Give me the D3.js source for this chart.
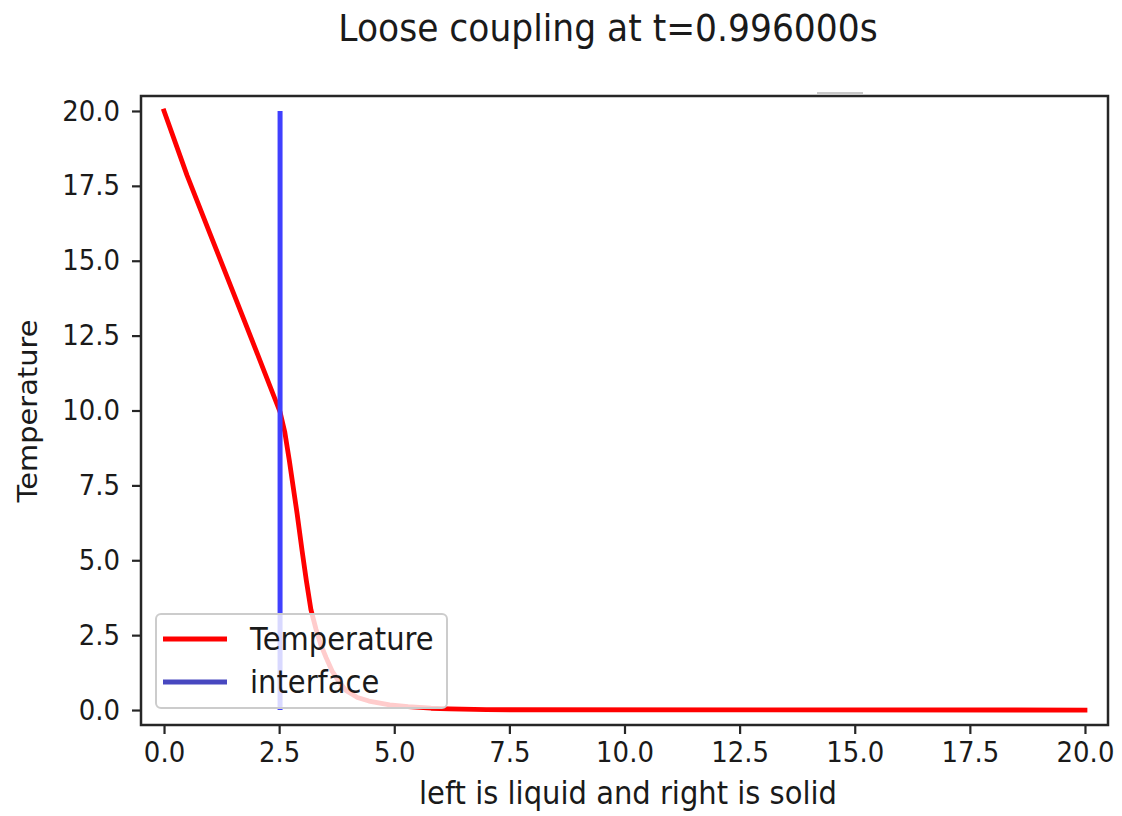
<!DOCTYPE html>
<html>
<head>
<meta charset="utf-8">
<script src="https://cdn.jsdelivr.net/npm/d3@7"></script>
<style>
  html, body { margin: 0; padding: 0; background: #fff; }
  svg { display: block; font-family: "DejaVu Sans", sans-serif; }
  svg text.stretch { transform-box: fill-box; transform-origin: center; transform: scaleY(1.09); }
</style>
</head>
<body>
<svg id="chart" width="1122" height="816"></svg>
<script>
// ---- data ----
const titleText = "Loose coupling at t=0.996000s";
const xLabelText = "left is liquid and right is solid";
const yLabelText = "Temperature";
const seriesNames = ["Temperature", "interface"];

const xPos = [0, 0.5, 1.0, 1.5, 2.0, 2.52, 2.62, 2.72, 2.8, 2.89, 3.0, 3.09, 3.19, 3.3, 3.4, 3.52, 3.65, 3.8, 3.95, 4.2, 4.45, 4.9, 5.3, 5.8, 6.2, 7.0, 20.0];
const temperature = [20, 17.85, 15.9, 13.95, 12.0, 9.95, 9.3, 8.34, 7.5, 6.56, 5.3, 4.33, 3.35, 2.7, 2.2, 1.75, 1.3, 0.95, 0.65, 0.42, 0.3, 0.17, 0.11, 0.06, 0.04, 0.01, 0];

const interfaceX = [2.52, 2.52];
const interfaceY = [0, 20];

const xTicks = [0, 2.5, 5, 7.5, 10, 12.5, 15, 17.5, 20];
const yTicks = [0, 2.5, 5, 7.5, 10, 12.5, 15, 17.5, 20];

// ---- layout ----
const svg = d3.select("#chart");
const L = 141, R = 1108, T = 96, B = 725;

const x = d3.scaleLinear().domain([-0.5, 20.5]).range([L, R]);
const y = d3.scaleLinear().domain([-0.5, 20.5]).range([B, T]);

const red = "#ff0000";
const blue = "#4040ff";
const axisColor = "#262626";

// clip
svg.append("clipPath").attr("id", "clip")
  .append("rect").attr("x", L).attr("y", T).attr("width", R - L).attr("height", B - T);

const plot = svg.append("g").attr("clip-path", "url(#clip)");

const line = d3.line().x(d => x(d[0])).y(d => y(d[1]));

plot.append("path")
  .datum(xPos.map((v, i) => [v, temperature[i]]))
  .attr("d", line)
  .attr("fill", "none")
  .attr("stroke", red)
  .attr("stroke-width", 4.8)
  .attr("stroke-linejoin", "round")
  .attr("stroke-linecap", "square");

plot.append("path")
  .datum(interfaceX.map((v, i) => [v, interfaceY[i]]))
  .attr("d", line)
  .attr("fill", "none")
  .attr("stroke", blue)
  .attr("stroke-width", 5)
  .attr("stroke-linecap", "butt");

// ---- axes ----
const fmt = d3.format(".1f");
const xAxis = d3.axisBottom(x).tickValues(xTicks).tickFormat(fmt).tickSize(9).tickPadding(9);
const yAxis = d3.axisLeft(y).tickValues(yTicks).tickFormat(fmt).tickSize(9).tickPadding(12);

const gx = svg.append("g").attr("transform", `translate(0,${B})`).call(xAxis);
const gy = svg.append("g").attr("transform", `translate(${L},0)`).call(yAxis);
[gx, gy].forEach(g => {
  g.select(".domain").remove();
  g.selectAll(".tick line").attr("stroke", axisColor).attr("stroke-width", 2.2);
  g.selectAll(".tick text").attr("class", "stretch").attr("fill", "#1a1a1a")
    .style("font-family", "'DejaVu Sans', sans-serif").style("font-size", "26px");
});

// ---- legend ----
const lg = svg.append("g");
lg.append("rect")
  .attr("x", 156).attr("y", 614).attr("width", 291).attr("height", 94)
  .attr("rx", 5).attr("ry", 5)
  .attr("fill", "#ffffff").attr("fill-opacity", 0.8)
  .attr("stroke", "#cccccc").attr("stroke-width", 2);
const legendColors = [red, "#4848c0"];
seriesNames.forEach((name, i) => {
  const yy = 639 + i * 43;
  lg.append("line").attr("x1", 163).attr("x2", 227).attr("y1", yy).attr("y2", yy)
    .attr("stroke", legendColors[i]).attr("stroke-width", 4.8);
  lg.append("text").attr("class", "stretch").attr("x", 250).attr("y", yy).attr("dy", "0.36em")
    .attr("fill", "#1a1a1a").style("font-size", "29px").text(name);
});

// ---- spines ----
svg.append("rect").attr("x", L).attr("y", T).attr("width", R - L).attr("height", B - T)
  .attr("fill", "none").attr("stroke", axisColor).attr("stroke-width", 2.5);

// small grey artifact above the top spine
svg.append("rect").attr("x", 817).attr("y", 92).attr("width", 46).attr("height", 3).attr("fill", "#c8c8c8");

// ---- labels ----
svg.append("text").attr("class", "stretch").attr("x", 608).attr("y", 40).attr("text-anchor", "middle")
  .attr("fill", "#1a1a1a").style("font-size", "34.5px").text(titleText);
svg.append("text").attr("class", "stretch").attr("x", 628).attr("y", 803).attr("text-anchor", "middle")
  .attr("fill", "#1a1a1a").style("font-size", "29px").text(xLabelText);
svg.append("g").attr("transform", `translate(37,411)`)
  .append("text")
  .attr("transform", "rotate(-90) scale(1.09,1)")
  .attr("text-anchor", "middle").attr("fill", "#1a1a1a").style("font-size", "26.5px").text(yLabelText);
</script>
</body>
</html>
